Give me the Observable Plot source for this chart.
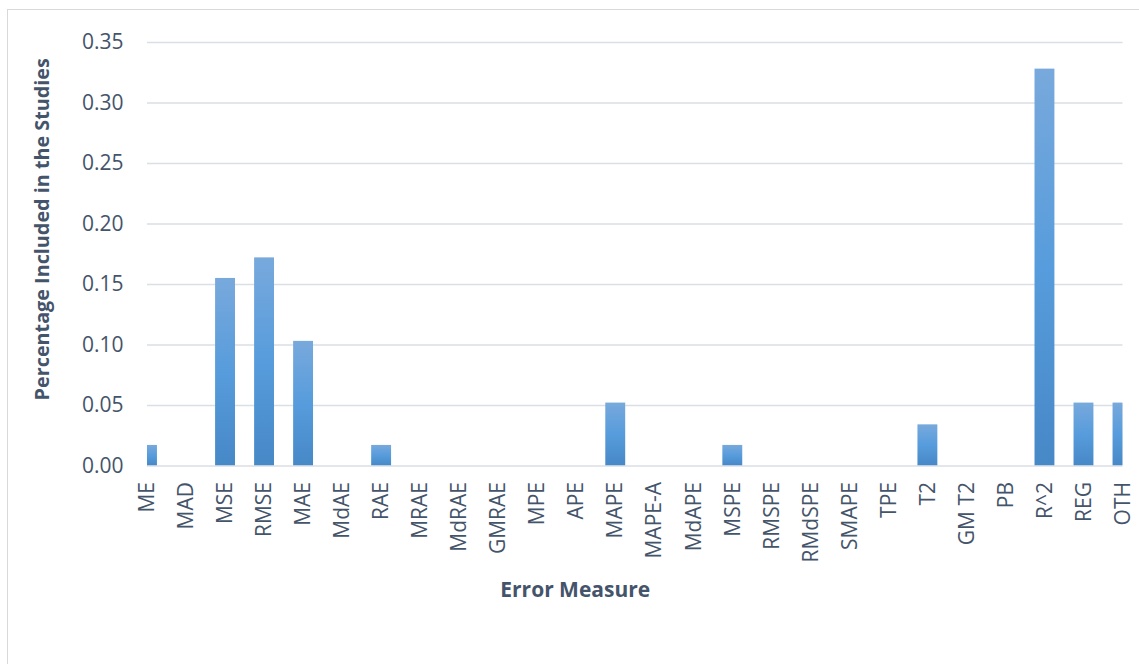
<!DOCTYPE html>
<html>
<head>
<meta charset="utf-8">
<script src="https://cdn.jsdelivr.net/npm/d3@7"></script>
<script src="https://cdn.jsdelivr.net/npm/@observablehq/plot@0.6"></script>
<style>
  html, body { margin: 0; padding: 0; background: #fff; }
  #wrap { position: relative; width: 1139px; height: 664px; overflow: hidden; }
  #border { position: absolute; left: 7px; top: 9px; width: 1200px; height: 700px; border-left: 1.5px solid #d9d9d9; border-top: 1.5px solid #d9d9d9; pointer-events: none; }
  #chart { position: absolute; left: 0; top: 0; }
</style>
</head>
<body>
<div id="wrap"><div id="border"></div><div id="chart"></div></div>
<script>
const categories = ["ME","MAD","MSE","RMSE","MAE","MdAE","RAE","MRAE","MdRAE","GMRAE","MPE","APE","MAPE","MAPE-A","MdAPE","MSPE","RMSPE","RMdSPE","SMAPE","TPE","T2","GM T2","PB","R^2","REG","OTH"];
const values = [0.017,0,0.155,0.172,0.103,0,0.017,0,0,0,0,0,0.052,0,0,0.017,0,0,0,0,0.034,0,0,0.328,0.052,0.052];
const yTicks = [0,0.05,0.10,0.15,0.20,0.25,0.30,0.35];
const yLabel = "Percentage Included in the Studies";
const xLabel = "Error Measure";

const data = categories.map((c, i) => ({measure: c, share: values[i]}));

const pad = 0.49;

const gradient = () => {
  const ns = "http://www.w3.org/2000/svg";
  const defs = document.createElementNS(ns, "defs");
  defs.innerHTML = `<linearGradient id="barGrad" x1="0" y1="0" x2="0" y2="1">
      <stop offset="0" stop-color="#78a9dc"/>
      <stop offset="0.5" stop-color="#579cdc"/>
      <stop offset="1" stop-color="#4788c7"/>
    </linearGradient>`;
  return defs;
};

const chart = Plot.plot({
  width: 1139,
  height: 664,
  marginLeft: 147,
  marginRight: 16.5,
  marginTop: 42,
  marginBottom: 198.5,
  style: {fontFamily: "'Open Sans', sans-serif", fontSize: "21px", color: "#44546a", background: "transparent"},
  x: {domain: categories, paddingInner: pad, paddingOuter: -(1 - pad) / 2, round: false},
  y: {domain: [0, 0.35]},
  marks: [
    gradient,
    Plot.gridY(yTicks, {stroke: "#dadee5", strokeOpacity: 1, strokeWidth: 1.5}),
    Plot.barY(data, {x: "measure", y: "share", fill: "url(#barGrad)", clip: true}),
    Plot.axisY({ticks: yTicks, tickFormat: ".2f", tickSize: 0, tickPadding: 24, label: null, fill: "#44546a"}),
    Plot.axisX({tickRotate: -90, tickSize: 0, tickPadding: 16, label: null, fill: "#44546a"}),
    Plot.text([yLabel], {frameAnchor: "left", textAnchor: "middle", rotate: -90, dx: -105, dy: -25, fontWeight: "bold", fontSize: 19.8, fill: "#44546a"}),
    Plot.text([xLabel], {frameAnchor: "bottom", dy: 131, dx: -60, fontWeight: "bold", fontSize: 21, fill: "#44546a"})
  ]
});
document.getElementById("chart").appendChild(chart);
</script>
</body>
</html>
